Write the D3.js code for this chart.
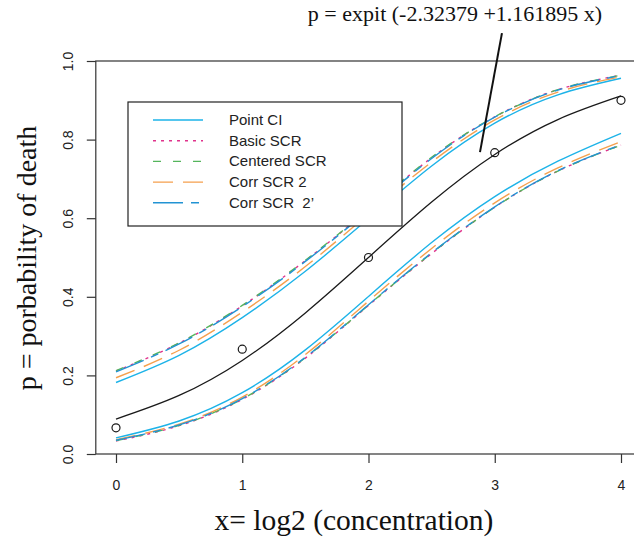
<!DOCTYPE html>
<html>
<head>
<meta charset="utf-8">
<script src="https://cdn.jsdelivr.net/npm/d3@7"></script>
<style>
  body { margin: 0; background: #fff; }
  svg { display: block; }
  text { white-space: pre; }
</style>
</head>
<body>
<svg id="chart" width="634" height="537"></svg>
<script>
let xGrid = [0, 0.5, 1, 1.5, 2, 2.5, 3, 3.5, 4];

// observed proportions
let obsX = [0, 1, 2, 3, 4];
let obsP = [0.0667, 0.2667, 0.5, 0.7667, 0.9];

// fitted curve p = expit(-2.32379 + 1.161895 x)
let fitP = [0.089, 0.149, 0.238, 0.359, 0.500, 0.641, 0.762, 0.851, 0.911];

// bands (lower / upper)
let pointLo = [0.041, 0.084, 0.156, 0.265, 0.401, 0.538, 0.655, 0.745, 0.816];
let pointHi = [0.182, 0.251, 0.347, 0.465, 0.599, 0.733, 0.842, 0.914, 0.956];
let basicLo = [0.033, 0.072, 0.139, 0.244, 0.378, 0.510, 0.628, 0.720, 0.786];
let basicHi = [0.211, 0.282, 0.377, 0.492, 0.622, 0.754, 0.858, 0.927, 0.964];
let centLo = [0.034, 0.073, 0.140, 0.245, 0.379, 0.511, 0.628, 0.720, 0.786];
let centHi = [0.212, 0.283, 0.378, 0.493, 0.623, 0.755, 0.858, 0.927, 0.964];
let corr2Lo = [0.0365, 0.076, 0.145, 0.253, 0.389, 0.523, 0.639, 0.728, 0.795];
let corr2Hi = [0.194, 0.264, 0.361, 0.477, 0.611, 0.743, 0.850, 0.921, 0.960];
let corr2pLo = [0.035, 0.074, 0.141, 0.246, 0.380, 0.512, 0.629, 0.721, 0.787];
let corr2pHi = [0.209, 0.280, 0.375, 0.490, 0.620, 0.752, 0.857, 0.926, 0.963];

let legendNames = ["Point CI", "Basic SCR", "Centered SCR", "Corr SCR 2", "Corr SCR  2\u2019"];
let xTicks = [0, 1, 2, 3, 4];
let yTicks = [0, 0.2, 0.4, 0.6, 0.8, 1.0];

let styles = [
  { color: "#1DB3E8", dash: null },
  { color: "#E0338C", dash: "3,5" },
  { color: "#55B55C", dash: "8,12" },
  { color: "#F5A04E", dash: "20,10" },
  { color: "#2293D3", dash: "30,8,8,8" }
];
let bands = [
  [pointLo, pointHi],
  [basicLo, basicHi],
  [centLo, centHi],
  [corr2Lo, corr2Hi],
  [corr2pLo, corr2pHi]
];

let svg = d3.select("#chart");

// plot area: x(0)=116, x(4)=621 ; y(0)=454, y(1)=61
let xScale = d3.scaleLinear().domain([0, 4]).range([116, 621]);
let yScale = d3.scaleLinear().domain([0, 1]).range([454, 61]);

let line = d3.line()
  .x(function(d) { return xScale(d[0]); })
  .y(function(d) { return yScale(d[1]); })
  .curve(d3.curveNatural);

// bands
bands.forEach(function(b, i) {
  b.forEach(function(series) {
    svg.append("path")
      .datum(xGrid.map(function(x, j) { return [x, series[j]]; }))
      .attr("d", line)
      .attr("fill", "none")
      .attr("stroke", styles[i].color)
      .attr("stroke-width", 1.4)
      .attr("stroke-dasharray", styles[i].dash);
  });
});

// fitted curve
svg.append("path")
  .datum(xGrid.map(function(x, j) { return [x, fitP[j]]; }))
  .attr("d", line)
  .attr("fill", "none")
  .attr("stroke", "#1a1a1a")
  .attr("stroke-width", 1.3);

// observed points
svg.selectAll("circle.obs")
  .data(obsX)
  .enter().append("circle")
  .attr("class", "obs")
  .attr("cx", function(d) { return xScale(d); })
  .attr("cy", function(d, i) { return yScale(obsP[i]); })
  .attr("r", 4)
  .attr("fill", "none")
  .attr("stroke", "#1a1a1a")
  .attr("stroke-width", 1.2);

// plot box (R style, 4% extension on x)
svg.append("rect")
  .attr("x", xScale(-0.16))
  .attr("y", yScale(1))
  .attr("width", xScale(4.16) - xScale(-0.16))
  .attr("height", yScale(0) - yScale(1))
  .attr("fill", "none")
  .attr("stroke", "#333")
  .attr("stroke-width", 1.2);

// x axis
let xAxis = svg.append("g")
  .attr("transform", "translate(0," + yScale(0) + ")")
  .call(d3.axisBottom(xScale).tickValues(xTicks).tickSize(9).tickPadding(17).tickFormat(d3.format("d")));
xAxis.select(".domain").remove();
xAxis.selectAll("line").attr("stroke", "#333").attr("stroke-width", 1.2);
xAxis.selectAll("text")
  .attr("fill", "#222")
  .style("font-family", "'Liberation Sans', Arial, sans-serif")
  .style("font-size", "14px");

// y axis, labels rotated like R
let yAxis = svg.append("g")
  .attr("transform", "translate(" + xScale(-0.16) + ",0)")
  .call(d3.axisLeft(yScale).tickValues(yTicks).tickSize(9).tickFormat(d3.format(".1f")));
yAxis.select(".domain").remove();
yAxis.selectAll("line").attr("stroke", "#333").attr("stroke-width", 1.2);
yAxis.selectAll("text")
  .attr("x", null)
  .attr("dy", null)
  .attr("text-anchor", "middle")
  .attr("transform", "translate(-23,0) rotate(-90)")
  .attr("fill", "#222")
  .style("font-family", "'Liberation Sans', Arial, sans-serif")
  .style("font-size", "14px");

// axis titles
svg.append("text")
  .attr("x", 354)
  .attr("y", 530)
  .attr("text-anchor", "middle")
  .style("font-family", "'Liberation Serif', 'Times New Roman', serif")
  .style("font-size", "29.5px")
  .attr("fill", "#111")
  .text("x= log2 (concentration)");

svg.append("text")
  .attr("transform", "translate(36,258) rotate(-90)")
  .attr("text-anchor", "middle")
  .style("font-family", "'Liberation Serif', 'Times New Roman', serif")
  .style("font-size", "28px")
  .attr("fill", "#111")
  .text("p = porbability of death");

// annotation
svg.append("line")
  .attr("x1", xScale(3.057)).attr("y1", yScale(1.071))
  .attr("x2", xScale(2.883)).attr("y2", yScale(0.768))
  .attr("stroke", "#111")
  .attr("stroke-width", 2);

svg.append("text")
  .attr("x", 455)
  .attr("y", 21)
  .attr("text-anchor", "middle")
  .style("font-family", "'Liberation Serif', 'Times New Roman', serif")
  .style("font-size", "22px")
  .attr("fill", "#111")
  .text("p = expit (-2.32379 +1.161895 x)");

// legend
let legend = svg.append("g");
legend.append("rect")
  .attr("x", 128).attr("y", 102)
  .attr("width", 274).attr("height", 124)
  .attr("fill", "#fff")
  .attr("stroke", "#222")
  .attr("stroke-width", 1.2);

legendNames.forEach(function(name, i) {
  let yy = 120 + i * 20.7;
  legend.append("line")
    .attr("x1", 153).attr("x2", 203)
    .attr("y1", yy).attr("y2", yy)
    .attr("stroke", styles[i].color)
    .attr("stroke-width", 1.4)
    .attr("stroke-dasharray", styles[i].dash);
  legend.append("text")
    .attr("x", 229)
    .attr("y", yy + 5)
    .style("font-family", "'Liberation Sans', Arial, sans-serif")
    .style("font-size", "15px")
    .attr("fill", "#222")
    .text(name);
});
</script>
</body>
</html>
